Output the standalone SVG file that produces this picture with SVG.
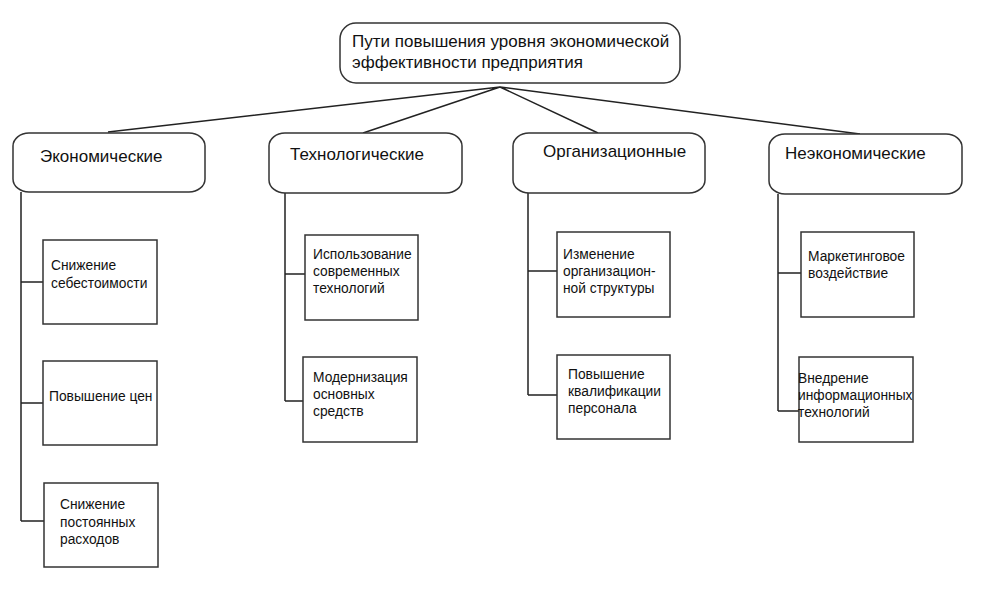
<svg xmlns="http://www.w3.org/2000/svg" width="1003" height="614" viewBox="0 0 1003 614">
<style>
.s{fill:#fff;stroke:#333;stroke-width:1.5}
.c{fill:none;stroke:#222;stroke-width:1.5}
text{font-family:"Liberation Sans",Arial,sans-serif;fill:#111}
.t{font-size:17px}
.k{font-size:17px}
.b{font-size:13.8px}
</style>
<rect width="1003" height="614" fill="#fff"/>
<g id="connectors" class="c">
<path d="M500 87 L108 132 M500 87 L363 133 M500 87 L598 133 M500 87 L860 134"/>
<path d="M21 192 V521 M21 282 H43 M21 403 H43 M21 521 H44"/>
<path d="M285 193 V401 M285 274 H305 M285 401 H303"/>
<path d="M528 193 V395 M528 271 H557 M528 395 H557"/>
<path d="M778 194 V411 M778 273 H801 M778 411 H799"/>
</g>
<g id="root">
<rect class="s" x="340" y="23" width="340" height="60" rx="16" ry="16"/>
<text class="t" x="352" y="47">Пути повышения уровня экономической</text>
<text class="t" x="352" y="68">эффективности предприятия</text>
</g>
<g id="cat-econ">
<rect class="s" x="13" y="133" width="192" height="59" rx="16" ry="13"/>
<text class="k" x="40" y="162">Экономические</text>
</g>
<g id="cat-tech">
<rect class="s" x="269" y="133" width="193" height="60" rx="16" ry="13"/>
<text class="k" x="290" y="160">Технологические</text>
</g>
<g id="cat-org">
<rect class="s" x="513" y="133" width="192" height="60" rx="16" ry="13"/>
<text class="k" x="543" y="157">Организационные</text>
</g>
<g id="cat-neecon">
<rect class="s" x="769" y="134" width="193" height="60" rx="16" ry="13"/>
<text class="k" x="785" y="159">Неэкономические</text>
</g>
<g id="e1">
<rect class="s" x="43" y="240" width="114" height="84"/>
<text class="b" x="51" y="270">Снижение</text>
<text class="b" x="51" y="288">себестоимости</text>
</g>
<g id="e2">
<rect class="s" x="43" y="361" width="114" height="84"/>
<text class="b" x="49" y="401">Повышение цен</text>
</g>
<g id="e3">
<rect class="s" x="44" y="483" width="114" height="84"/>
<text class="b" x="60" y="509">Снижение</text>
<text class="b" x="60" y="527">постоянных</text>
<text class="b" x="60" y="544">расходов</text>
</g>
<g id="t1">
<rect class="s" x="305" y="235" width="113" height="85"/>
<text class="b" x="313" y="259">Использование</text>
<text class="b" x="313" y="276">современных</text>
<text class="b" x="313" y="293">технологий</text>
</g>
<g id="t2">
<rect class="s" x="303" y="357" width="114" height="85"/>
<text class="b" x="313" y="382">Модернизация</text>
<text class="b" x="313" y="399">основных</text>
<text class="b" x="313" y="416">средств</text>
</g>
<g id="o1">
<rect class="s" x="557" y="232" width="113" height="85"/>
<text class="b" x="563" y="259">Изменение</text>
<text class="b" x="563" y="276">организацион-</text>
<text class="b" x="563" y="293">ной структуры</text>
</g>
<g id="o2">
<rect class="s" x="557" y="355" width="113" height="84"/>
<text class="b" x="568" y="379">Повышение</text>
<text class="b" x="568" y="396">квалификации</text>
<text class="b" x="568" y="413">персонала</text>
</g>
<g id="n1">
<rect class="s" x="801" y="232" width="113" height="85"/>
<text class="b" x="808" y="261">Маркетинговое</text>
<text class="b" x="808" y="278">воздействие</text>
</g>
<g id="n2">
<rect class="s" x="799" y="357" width="114" height="85"/>
<text class="b" x="798" y="383">Внедрение</text>
<text class="b" x="798" y="400">информационных</text>
<text class="b" x="798" y="417">технологий</text>
</g>
</svg>
